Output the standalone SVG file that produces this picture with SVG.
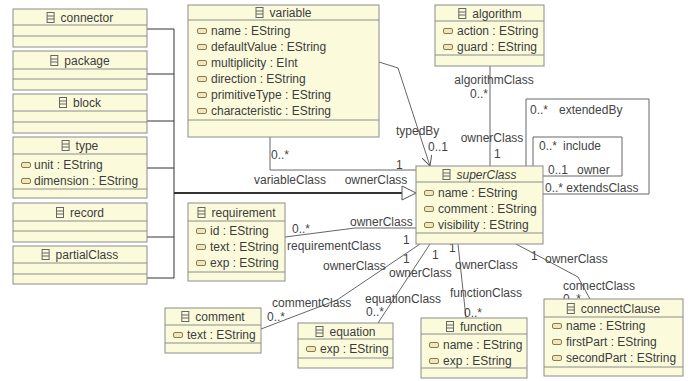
<svg xmlns="http://www.w3.org/2000/svg" xmlns:xlink="http://www.w3.org/1999/xlink" width="690" height="381" viewBox="0 0 690 381">
<defs>
<style>
.box{fill:#fbfbdc;stroke:#8c8c8c;stroke-width:1}
.sep{stroke:#8c8c8c;stroke-width:1}
.t{font-family:"Liberation Sans",Arial,sans-serif;font-size:12px;fill:#3c3c3c}
.ti{font-style:italic}
.c{fill:none;stroke:#666;stroke-width:1}
.g{fill:none;stroke:#333;stroke-width:1}
.lbl{font-family:"Liberation Sans",Arial,sans-serif;font-size:12px;fill:#444}
</style>
<g id="ci"><rect x="0.5" y="0.5" width="7" height="10" fill="#fbfbdc" stroke="#666"/><line x1="0.5" y1="4" x2="7.5" y2="4" stroke="#666"/><line x1="0.5" y1="7" x2="7.5" y2="7" stroke="#666"/></g>
<g id="ai"><rect x="0.5" y="0.5" width="9" height="5" rx="1.5" fill="#efe6bd" stroke="#8a7b4f"/></g>
<marker id="open" markerWidth="12" markerHeight="12" refX="10" refY="5" orient="auto" markerUnits="userSpaceOnUse"><path d="M0,0 L10,5 L0,10" fill="none" stroke="#555" stroke-width="1"/></marker>
</defs>
<rect width="690" height="381" fill="#ffffff"/>

<g id="connectors">
<g class="g">
<line x1="147" y1="29" x2="174" y2="29"/>
<line x1="147" y1="74" x2="174" y2="74"/>
<line x1="147" y1="121" x2="174" y2="121"/>
<line x1="147" y1="168" x2="174" y2="168"/>
<line x1="147" y1="237" x2="174" y2="237"/>
<line x1="147" y1="278" x2="174" y2="278"/>
<line x1="174" y1="29" x2="174" y2="278"/>
<line x1="174" y1="193" x2="402" y2="193" stroke-width="2"/>
</g>
<polygon points="402,186 416,193 402,200" fill="#fff" stroke="#555"/>
<polyline class="c" points="270,137 270,170 416,170"/>
<polyline class="c" points="379,62 398,68 430,166" marker-end="url(#open)"/>
<line class="c" x1="490" y1="66" x2="490" y2="166"/>
<polyline class="c" points="526,166 526,99 649,99 649,194 543,194"/>
<polyline class="c" points="533,166 533,137 622,137 622,176 543,176"/>
<polyline class="c" points="285,237 355,228 416,228"/>
<polyline class="c" points="261,329 337,300 420,244"/>
<line class="c" x1="378" y1="323" x2="430" y2="244"/>
<line class="c" x1="458" y1="244" x2="466" y2="318"/>
<polyline class="c" points="516,244 578,277 590,299"/>
<g class="lbl">
<text x="271" y="159">0..*</text>
<text x="396" y="169">1</text>
<text x="290" y="184" text-anchor="middle">variableClass</text>
<text x="376" y="184" text-anchor="middle">ownerClass</text>
<text x="396" y="135">typedBy</text>
<text x="428" y="151">0..1</text>
<text x="494" y="84" text-anchor="middle">algorithmClass</text>
<text x="488" y="98" text-anchor="end">0..*</text>
<text x="492" y="142" text-anchor="middle">ownerClass</text>
<text x="494" y="158">1</text>
<text x="530" y="114">0..*</text>
<text x="559" y="114">extendedBy</text>
<text x="545" y="192">0..* extendsClass</text>
<text x="539" y="150">0..*</text>
<text x="563" y="150">include</text>
<text x="548" y="174">0..1</text>
<text x="577" y="174">owner</text>
<text x="292" y="233">0..*</text>
<text x="350" y="226">ownerClass</text>
<text x="287" y="250">requirementClass</text>
<text x="403" y="244">1</text>
<text x="272" y="307">commentClass</text>
<text x="267" y="321">0..*</text>
<text x="323" y="270">ownerClass</text>
<text x="403" y="263">1</text>
<text x="365" y="303">equationClass</text>
<text x="366" y="316">0..*</text>
<text x="389" y="277">ownerClass</text>
<text x="432" y="259">1</text>
<text x="455" y="269">ownerClass</text>
<text x="450" y="297">functionClass</text>
<text x="464" y="317">0..*</text>
<text x="449" y="252">1</text>
<text x="531" y="260">1</text>
<text x="545" y="263">ownerClass</text>
<text x="563" y="290">connectClass</text>
<text x="563" y="303">0..*</text>
</g>
</g>

<g id="connector">
<rect class="box" x="13" y="9" width="134" height="38"/>
<line class="sep" x1="13" y1="25" x2="147" y2="25"/><line class="sep" x1="13" y1="36" x2="147" y2="36"/>
<use xlink:href="#ci" x="46.6" y="12"/><text class="t" x="60.6" y="21.5">connector</text>
</g>
<g id="package">
<rect class="box" x="13" y="51" width="134" height="39"/>
<line class="sep" x1="13" y1="69" x2="147" y2="69"/><line class="sep" x1="13" y1="79" x2="147" y2="79"/>
<use xlink:href="#ci" x="50.3" y="55"/><text class="t" x="64.3" y="64.5">package</text>
</g>
<g id="block">
<rect class="box" x="13" y="94" width="134" height="39"/>
<line class="sep" x1="13" y1="111" x2="147" y2="111"/><line class="sep" x1="13" y1="122" x2="147" y2="122"/>
<use xlink:href="#ci" x="59" y="97"/><text class="t" x="73" y="106.5">block</text>
</g>
<g id="type">
<rect class="box" x="13" y="137" width="134" height="61"/>
<line class="sep" x1="13" y1="154" x2="147" y2="154"/><line class="sep" x1="13" y1="189" x2="147" y2="189"/>
<use xlink:href="#ci" x="61.6" y="140"/><text class="t" x="75.6" y="149.5">type</text>
<use xlink:href="#ai" x="21" y="162"/><text class="t" x="34" y="169">unit : EString</text>
<use xlink:href="#ai" x="21" y="178"/><text class="t" x="34" y="185">dimension : EString</text>
</g>
<g id="record">
<rect class="box" x="13" y="203" width="134" height="39"/>
<line class="sep" x1="13" y1="221" x2="147" y2="221"/><line class="sep" x1="13" y1="231" x2="147" y2="231"/>
<use xlink:href="#ci" x="56" y="207"/><text class="t" x="70" y="216.5">record</text>
</g>
<g id="partialClass">
<rect class="box" x="13" y="246" width="134" height="38"/>
<line class="sep" x1="13" y1="263" x2="147" y2="263"/><line class="sep" x1="13" y1="274" x2="147" y2="274"/>
<use xlink:href="#ci" x="41.6" y="249"/><text class="t" x="55.6" y="258.5">partialClass</text>
</g>
<g id="variable">
<rect class="box" x="188" y="5" width="191" height="132"/>
<line class="sep" x1="188" y1="20" x2="379" y2="20"/><line class="sep" x1="188" y1="120" x2="379" y2="120"/>
<use xlink:href="#ci" x="255.5" y="7"/><text class="t" x="269.5" y="16.5">variable</text>
<use xlink:href="#ai" x="197" y="28"/><text class="t" x="211" y="35">name : EString</text>
<use xlink:href="#ai" x="197" y="44"/><text class="t" x="211" y="51">defaultValue : EString</text>
<use xlink:href="#ai" x="197" y="60"/><text class="t" x="211" y="67">multiplicity : EInt</text>
<use xlink:href="#ai" x="197" y="76"/><text class="t" x="211" y="83">direction : EString</text>
<use xlink:href="#ai" x="197" y="92"/><text class="t" x="211" y="99">primitiveType : EString</text>
<use xlink:href="#ai" x="197" y="108"/><text class="t" x="211" y="115">characteristic : EString</text>
</g>
<g id="algorithm">
<rect class="box" x="435" y="5" width="109" height="61"/>
<line class="sep" x1="435" y1="21" x2="544" y2="21"/><line class="sep" x1="435" y1="55" x2="544" y2="55"/>
<use xlink:href="#ci" x="458.3" y="8"/><text class="t" x="472.3" y="17.5">algorithm</text>
<use xlink:href="#ai" x="443" y="28"/><text class="t" x="457" y="35">action : EString</text>
<use xlink:href="#ai" x="443" y="44"/><text class="t" x="457" y="51">guard : EString</text>
</g>
<g id="superClass">
<rect class="box" x="416" y="166" width="127" height="78"/>
<line class="sep" x1="416" y1="182" x2="543" y2="182"/><line class="sep" x1="416" y1="233" x2="543" y2="233"/>
<use xlink:href="#ci" x="442.5" y="169"/><text class="t ti" x="456.5" y="178.5">superClass</text>
<use xlink:href="#ai" x="424" y="190"/><text class="t" x="438" y="197">name : EString</text>
<use xlink:href="#ai" x="424" y="206"/><text class="t" x="438" y="213">comment : EString</text>
<use xlink:href="#ai" x="424" y="222"/><text class="t" x="438" y="229">visibility : EString</text>
</g>
<g id="requirement">
<rect class="box" x="188" y="203" width="97" height="78"/>
<line class="sep" x1="188" y1="221" x2="285" y2="221"/><line class="sep" x1="188" y1="272" x2="285" y2="272"/>
<use xlink:href="#ci" x="197.5" y="207"/><text class="t" x="211.5" y="216.5">requirement</text>
<use xlink:href="#ai" x="196" y="228"/><text class="t" x="210" y="235">id : EString</text>
<use xlink:href="#ai" x="196" y="244"/><text class="t" x="210" y="251">text : EString</text>
<use xlink:href="#ai" x="196" y="260"/><text class="t" x="210" y="267">exp : EString</text>
</g>
<g id="comment">
<rect class="box" x="165" y="308" width="96" height="45"/>
<line class="sep" x1="165" y1="325" x2="261" y2="325"/><line class="sep" x1="165" y1="343" x2="261" y2="343"/>
<use xlink:href="#ci" x="181.3" y="311"/><text class="t" x="195.3" y="320.5">comment</text>
<use xlink:href="#ai" x="173" y="332"/><text class="t" x="187" y="339">text : EString</text>
</g>
<g id="equation">
<rect class="box" x="298" y="323" width="95" height="45"/>
<line class="sep" x1="298" y1="339" x2="393" y2="339"/><line class="sep" x1="298" y1="358" x2="393" y2="358"/>
<use xlink:href="#ci" x="315.5" y="326"/><text class="t" x="329.5" y="335.5">equation</text>
<use xlink:href="#ai" x="306" y="346"/><text class="t" x="320" y="353">exp : EString</text>
</g>
<g id="function">
<rect class="box" x="421" y="318" width="106" height="60"/>
<line class="sep" x1="421" y1="334" x2="527" y2="334"/><line class="sep" x1="421" y1="368" x2="527" y2="368"/>
<use xlink:href="#ci" x="446" y="321"/><text class="t" x="460" y="330.5">function</text>
<use xlink:href="#ai" x="429" y="342"/><text class="t" x="443" y="349">name : EString</text>
<use xlink:href="#ai" x="429" y="358"/><text class="t" x="443" y="365">exp : EString</text>
</g>
<g id="connectClause">
<rect class="box" x="544" y="299" width="139" height="77"/>
<line class="sep" x1="544" y1="317" x2="683" y2="317"/><line class="sep" x1="544" y1="367" x2="683" y2="367"/>
<use xlink:href="#ci" x="566.8" y="303"/><text class="t" x="580.8" y="312.5">connectClause</text>
<use xlink:href="#ai" x="552" y="323"/><text class="t" x="566" y="330">name : EString</text>
<use xlink:href="#ai" x="552" y="339"/><text class="t" x="566" y="346">firstPart : EString</text>
<use xlink:href="#ai" x="552" y="355"/><text class="t" x="566" y="362">secondPart : EString</text>
</g>
</svg>
